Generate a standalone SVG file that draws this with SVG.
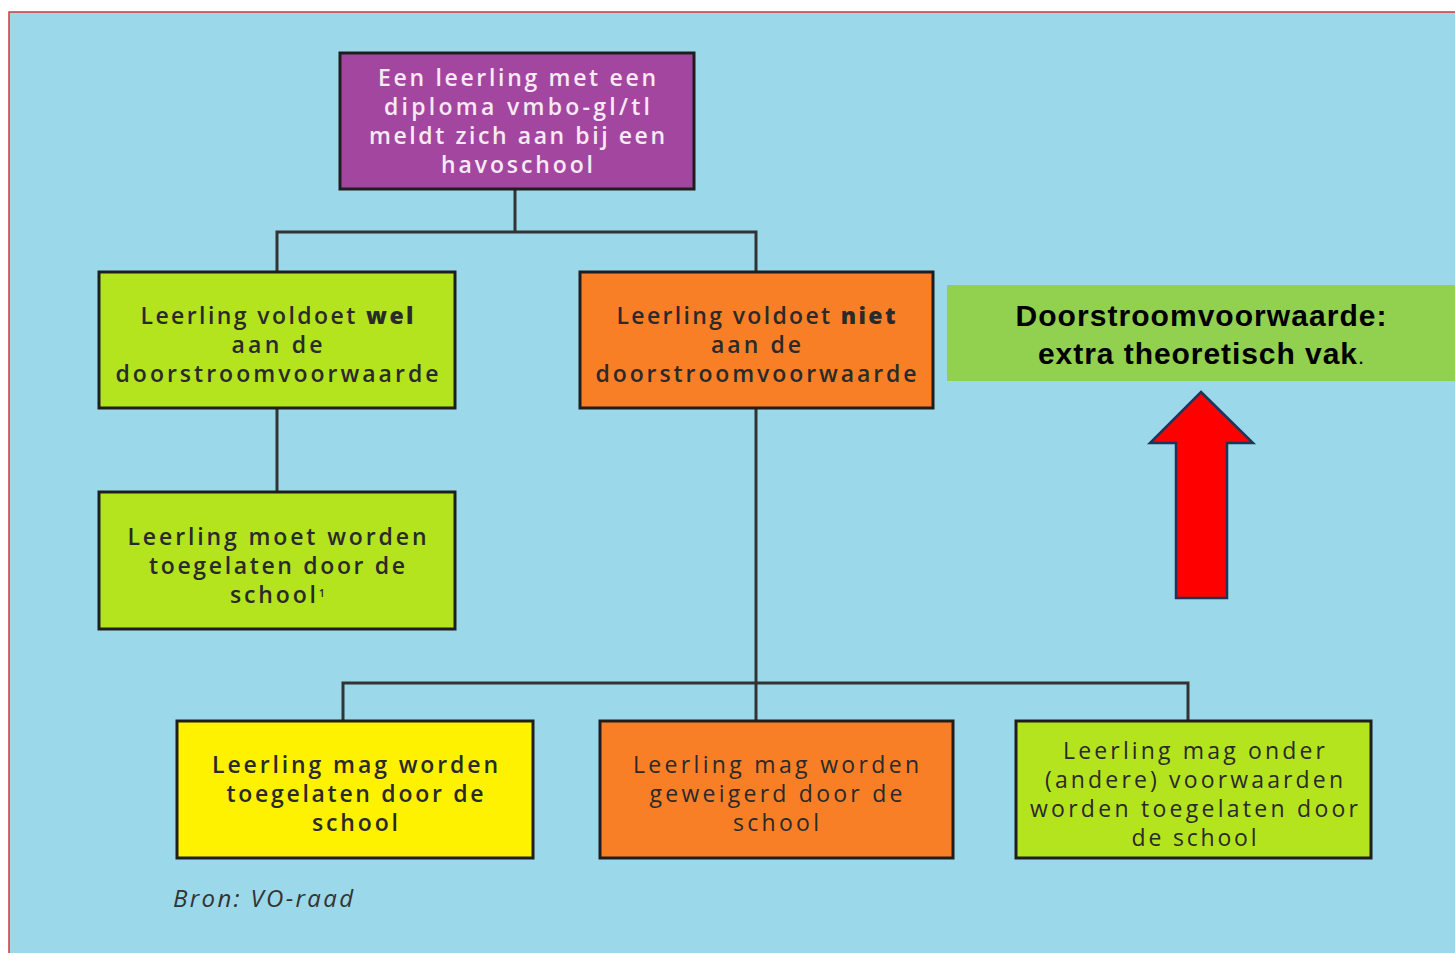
<svg xmlns="http://www.w3.org/2000/svg" width="1455" height="953" viewBox="0 0 1455 953">
<style>
.box{stroke:#1e1e1e;stroke-width:3}
.t{font-family:"Open Sans","Noto Sans",sans-serif;font-size:23px;font-weight:600;fill:#2a2a2a;text-anchor:middle}
.tr{font-weight:500}
.w{fill:#f6eaf4}
.con{fill:none;stroke:#333;stroke-width:3}
.ban{font-family:"Liberation Sans",Arial,sans-serif;font-size:30px;font-weight:bold;fill:#000;text-anchor:middle}
</style>
<rect x="0" y="0" width="1455" height="953" fill="#ffffff"/>
<rect x="9" y="12" width="1455" height="950" fill="#9bd8e9" stroke="#d8363a" stroke-width="1.5"/>

<g id="connectors">
<path class="con" d="M515 189V232" stroke-width="4"/>
<path class="con" d="M277 272V232H756V272"/>
<path class="con" d="M277 408V492"/>
<path class="con" d="M756 408V721"/>
<path class="con" d="M343 721V683H1188V721" stroke-width="2.5"/>
</g>

<g id="n_start">
<rect class="box" x="340" y="53" width="354" height="136" fill="#a346a0"/>
<text class="t w"><tspan x="517" y="86" textLength="278">Een leerling met een</tspan><tspan x="517" y="115" textLength="266">diploma vmbo-gl/tl</tspan><tspan x="517" y="144" textLength="296">meldt zich aan bij een</tspan><tspan x="517" y="173" textLength="152">havoschool</tspan></text>
</g>

<g id="n_wel">
<rect class="box" x="99" y="272" width="356" height="136" fill="#b4e41e"/>
<text class="t"><tspan x="277" y="324" textLength="273">Leerling voldoet <tspan font-weight="800">wel</tspan></tspan><tspan x="277" y="353" textLength="91">aan de</tspan><tspan x="277" y="382" textLength="323">doorstroomvoorwaarde</tspan></text>
</g>

<g id="n_moet">
<rect class="box" x="99" y="492" width="356" height="137" fill="#b4e41e"/>
<text class="t"><tspan x="277" y="545" textLength="299">Leerling moet worden</tspan><tspan x="277" y="574" textLength="256">toegelaten door de</tspan><tspan x="273" y="603" textLength="86">school</tspan></text>
<text x="319" y="597" font-family="Open Sans,sans-serif" font-size="10" font-weight="600" fill="#2a2a2a">1</text>
</g>

<g id="n_niet">
<rect class="box" x="580" y="272" width="353" height="136" fill="#f97f26"/>
<text class="t"><tspan x="756" y="324" textLength="279">Leerling voldoet <tspan font-weight="800">niet</tspan></tspan><tspan x="756" y="353" textLength="90">aan de</tspan><tspan x="756" y="382" textLength="321">doorstroomvoorwaarde</tspan></text>
</g>

<g id="n_mag_toe">
<rect class="box" x="177" y="721" width="356" height="137" fill="#fff200"/>
<text class="t"><tspan x="355" y="773" textLength="286">Leerling mag worden</tspan><tspan x="355" y="802" textLength="257">toegelaten door de</tspan><tspan x="355" y="831" textLength="86">school</tspan></text>
</g>

<g id="n_geweigerd">
<rect class="box" x="600" y="721" width="353" height="137" fill="#f97f26"/>
<text class="t tr"><tspan x="776" y="773" textLength="286">Leerling mag worden</tspan><tspan x="776" y="802" textLength="253">geweigerd door de</tspan><tspan x="776" y="831" textLength="86">school</tspan></text>
</g>

<g id="n_onder">
<rect class="box" x="1016" y="721" width="355" height="137" fill="#b4e41e"/>
<text class="t tr"><tspan x="1194" y="759" textLength="262">Leerling mag onder</tspan><tspan x="1194" y="788" textLength="298">(andere) voorwaarden</tspan><tspan x="1194" y="817" textLength="328">worden toegelaten door</tspan><tspan x="1194" y="846" textLength="125">de school</tspan></text>
</g>

<text x="173" y="907" font-family="Open Sans,Noto Sans,sans-serif" font-size="24" font-style="italic" fill="#333" textLength="180">Bron: VO-raad</text>

<g id="banner">
<rect x="947" y="285" width="508" height="96" fill="#92d050"/>
<text class="ban"><tspan x="1201" y="326" textLength="371">Doorstroomvoorwaarde:</tspan><tspan x="1201" y="364" textLength="326">extra theoretisch vak<tspan font-weight="normal" font-size="22">.</tspan></tspan></text>
</g>

<g id="arrow">
<path d="M1201 392L1253 443H1227V598H1176V443H1150Z" fill="#ff0000" stroke="#1f3458" stroke-width="2.5" stroke-linejoin="miter"/>
</g>
</svg>
